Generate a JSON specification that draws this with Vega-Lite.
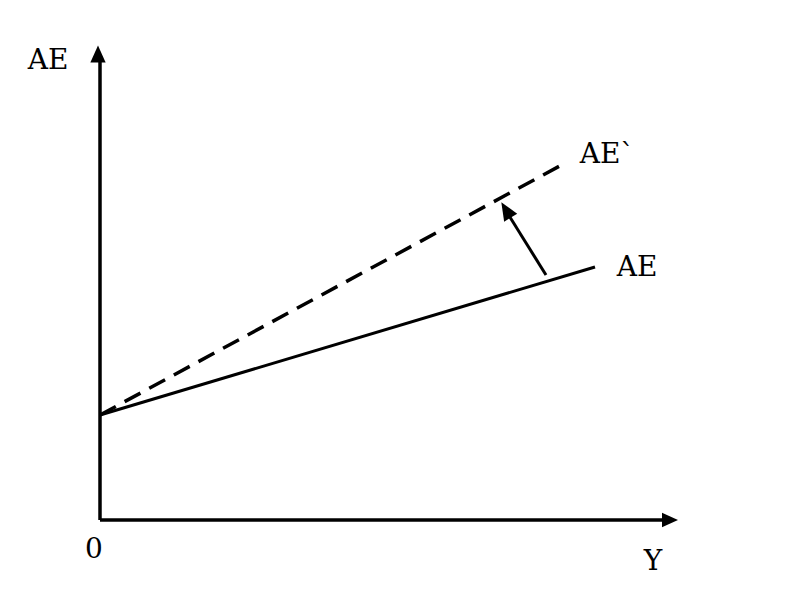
{
  "$schema": "https://vega.github.io/schema/vega-lite/v6.json",
  "width": 789,
  "height": 600,
  "autosize": {"type": "none"},
  "padding": 0,
  "background": "white",
  "config": {"view": {"stroke": null}, "text": {"font": "DejaVu Serif"}},
  "datasets": {
    "axes": [
      {"name": "yaxis", "x": 0, "y": 0, "x2": 0, "y2": 462},
      {"name": "xaxis", "x": 0, "y": 0, "x2": 565, "y2": 0}
    ],
    "ae": [{"x": 0, "y": 105, "x2": 495, "y2": 253}],
    "ae2": [{"x": 0, "y": 105, "x2": 467, "y2": 358}],
    "shift": [{"x": 446, "y": 245, "x2": 408, "y2": 306}],
    "labels": [
      {"text": "AE", "x": -52, "y": 459},
      {"text": "0", "x": -6, "y": -30},
      {"text": "Y", "x": 553, "y": -42},
      {"text": "AE`", "x": 507, "y": 365},
      {"text": "AE", "x": 537, "y": 252}
    ]
  },
  "layer": [
    {
      "data": {"name": "axes"},
      "mark": {"type": "rule", "color": "black", "strokeWidth": 3.5},
      "encoding": {
        "x": {"field": "x", "type": "quantitative", "scale": {"domain": [-100, 689], "nice": false, "zero": false}, "axis": null},
        "y": {"field": "y", "type": "quantitative", "scale": {"domain": [-80, 520], "nice": false, "zero": false}, "axis": null},
        "x2": {"field": "x2"},
        "y2": {"field": "y2"}
      }
    },
    {
      "data": {"name": "ae"},
      "mark": {"type": "rule", "color": "black", "strokeWidth": 3},
      "encoding": {
        "x": {"field": "x", "type": "quantitative"},
        "y": {"field": "y", "type": "quantitative"},
        "x2": {"field": "x2"},
        "y2": {"field": "y2"}
      }
    },
    {
      "data": {"name": "ae2"},
      "mark": {"type": "rule", "color": "black", "strokeWidth": 3.5, "strokeDash": [18, 10]},
      "encoding": {
        "x": {"field": "x", "type": "quantitative"},
        "y": {"field": "y", "type": "quantitative"},
        "x2": {"field": "x2"},
        "y2": {"field": "y2"}
      }
    },
    {
      "data": {"name": "shift"},
      "mark": {"type": "rule", "color": "black", "strokeWidth": 3},
      "encoding": {
        "x": {"field": "x", "type": "quantitative"},
        "y": {"field": "y", "type": "quantitative"},
        "x2": {"field": "x2"},
        "y2": {"field": "y2"}
      }
    },
    {
      "data": {"values": [{"x": -2, "y": 466}]},
      "mark": {"type": "point", "shape": "M0,-1L-0.9,1L0.9,1Z", "filled": true, "color": "black", "opacity": 1, "size": 289, "angle": 0},
      "encoding": {
        "x": {"field": "x", "type": "quantitative"},
        "y": {"field": "y", "type": "quantitative"}
      }
    },
    {
      "data": {"values": [{"x": 570, "y": 0}]},
      "mark": {"type": "point", "shape": "M0,-1L-0.9,1L0.9,1Z", "filled": true, "color": "black", "opacity": 1, "size": 256, "angle": 90},
      "encoding": {
        "x": {"field": "x", "type": "quantitative"},
        "y": {"field": "y", "type": "quantitative"}
      }
    },
    {
      "data": {"values": [{"x": 406, "y": 310}]},
      "mark": {"type": "point", "shape": "M0,-1L-0.85,1L0.85,1Z", "filled": true, "color": "black", "opacity": 1, "size": 324, "angle": 328.6},
      "encoding": {
        "x": {"field": "x", "type": "quantitative"},
        "y": {"field": "y", "type": "quantitative"}
      }
    },
    {
      "data": {"name": "labels"},
      "mark": {"type": "text", "font": "DejaVu Serif", "fontSize": 28, "color": "black", "align": "center", "baseline": "middle"},
      "encoding": {
        "x": {"field": "x", "type": "quantitative"},
        "y": {"field": "y", "type": "quantitative"},
        "text": {"field": "text"}
      }
    }
  ]
}
